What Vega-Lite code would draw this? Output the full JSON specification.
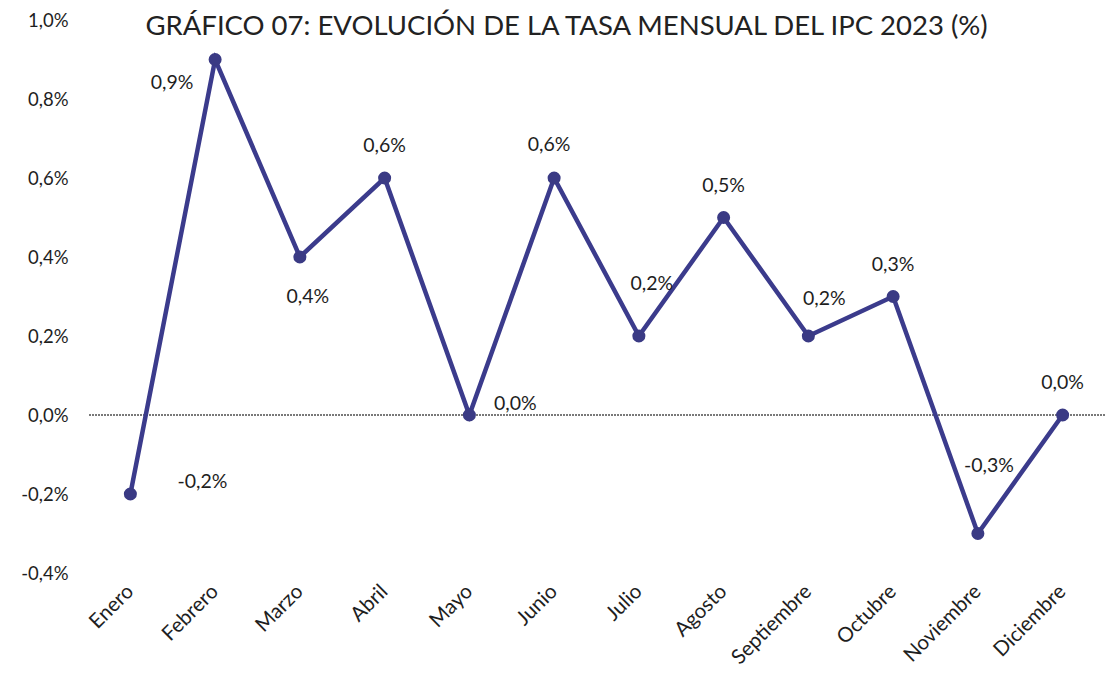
{
  "$schema": "https://vega.github.io/schema/vega-lite/v6.json",
  "autosize": "none",
  "width": 1017,
  "height": 553,
  "padding": {"left": 88, "top": 20, "right": 0, "bottom": 107},
  "background": "white",
  "config": {
    "locale": {"number": {"decimal": ",", "thousands": ".", "grouping": [3], "currency": ["", " €"], "minus": "-"}},
    "view": {"stroke": null},
    "font": "Lato"
  },
  "title": {
    "text": "GRÁFICO 07: EVOLUCIÓN DE LA TASA MENSUAL DEL IPC 2023 (%)",
    "font": "Lato",
    "fontSize": 27.5,
    "fontWeight": "normal",
    "color": "#222222",
    "anchor": "middle",
    "dx": -30,
    "dy": 33
  },
  "data": {
    "values": [
      {"mes": "Enero", "tasa": -0.002},
      {"mes": "Febrero", "tasa": 0.009},
      {"mes": "Marzo", "tasa": 0.004},
      {"mes": "Abril", "tasa": 0.006},
      {"mes": "Mayo", "tasa": 0.0},
      {"mes": "Junio", "tasa": 0.006},
      {"mes": "Julio", "tasa": 0.002},
      {"mes": "Agosto", "tasa": 0.005},
      {"mes": "Septiembre", "tasa": 0.002},
      {"mes": "Octubre", "tasa": 0.003},
      {"mes": "Noviembre", "tasa": -0.003},
      {"mes": "Diciembre", "tasa": 0.0}
    ]
  },
  "encoding": {
    "x": {"field": "mes", "type": "nominal", "sort": null,
      "scale": {"type": "band", "paddingInner": 0, "paddingOuter": 0},
      "axis": {"title": null, "labelAngle": -45, "labelAlign": "right", "labelBaseline": "middle",
        "labelPadding": 15, "domain": false, "ticks": false,
        "labelFont": "Lato", "labelFontSize": 20.5, "labelColor": "#1e1e1e"}},
    "y": {"field": "tasa", "type": "quantitative",
      "scale": {"domain": [-0.004, 0.01], "nice": false, "zero": false},
      "axis": {"title": null, "format": ".1%", "values": [-0.004, -0.002, 0, 0.002, 0.004, 0.006, 0.008, 0.01],
        "grid": false, "domain": false, "ticks": false, "labelPadding": 20,
        "labelFont": "Lato", "labelFontSize": 18.5, "labelColor": "#1e1e1e"}}
  },
  "layer": [
    {
      "mark": {"type": "rule", "color": "#7a7a7a", "strokeWidth": 1.5, "strokeDash": [1.5, 1.5]},
      "encoding": {"x": null, "y": {"datum": 0}}
    },
    {
      "mark": {"type": "line", "color": "#3b3b8c", "strokeWidth": 4.5}
    },
    {
      "mark": {"type": "point", "filled": true, "opacity": 1, "color": "#3a3a84", "size": 170}
    },
    {
      "transform": [{"filter": {"field": "mes", "oneOf": ["Abril", "Agosto", "Octubre", "Diciembre"]}}],
      "mark": {"type": "text", "dy": -32, "fontSize": 19.5, "color": "#1e1e1e"},
      "encoding": {"text": {"field": "tasa", "type": "quantitative", "format": ".1%"}}
    },
    {
      "transform": [{"filter": {"field": "mes", "equal": "Junio"}}],
      "mark": {"type": "text", "dx": -5, "dy": -33, "fontSize": 19.5, "color": "#1e1e1e"},
      "encoding": {"text": {"field": "tasa", "type": "quantitative", "format": ".1%"}}
    },
    {
      "transform": [{"filter": {"field": "mes", "equal": "Enero"}}],
      "mark": {"type": "text", "dx": 72, "dy": -12, "fontSize": 19.5, "color": "#1e1e1e"},
      "encoding": {"text": {"field": "tasa", "type": "quantitative", "format": ".1%"}}
    },
    {
      "transform": [{"filter": {"field": "mes", "equal": "Febrero"}}],
      "mark": {"type": "text", "dx": -43, "dy": 23, "fontSize": 19.5, "color": "#1e1e1e"},
      "encoding": {"text": {"field": "tasa", "type": "quantitative", "format": ".1%"}}
    },
    {
      "transform": [{"filter": {"field": "mes", "equal": "Marzo"}}],
      "mark": {"type": "text", "dx": 8, "dy": 40, "fontSize": 19.5, "color": "#1e1e1e"},
      "encoding": {"text": {"field": "tasa", "type": "quantitative", "format": ".1%"}}
    },
    {
      "transform": [{"filter": {"field": "mes", "equal": "Mayo"}}],
      "mark": {"type": "text", "dx": 46, "dy": -11, "fontSize": 19.5, "color": "#1e1e1e"},
      "encoding": {"text": {"field": "tasa", "type": "quantitative", "format": ".1%"}}
    },
    {
      "transform": [{"filter": {"field": "mes", "equal": "Julio"}}],
      "mark": {"type": "text", "dx": 13, "dy": -52, "fontSize": 19.5, "color": "#1e1e1e"},
      "encoding": {"text": {"field": "tasa", "type": "quantitative", "format": ".1%"}}
    },
    {
      "transform": [{"filter": {"field": "mes", "equal": "Septiembre"}}],
      "mark": {"type": "text", "dx": 16, "dy": -37, "fontSize": 19.5, "color": "#1e1e1e"},
      "encoding": {"text": {"field": "tasa", "type": "quantitative", "format": ".1%"}}
    },
    {
      "transform": [{"filter": {"field": "mes", "equal": "Noviembre"}}],
      "mark": {"type": "text", "dx": 11, "dy": -68, "fontSize": 19.5, "color": "#1e1e1e"},
      "encoding": {"text": {"field": "tasa", "type": "quantitative", "format": ".1%"}}
    }
  ]
}
